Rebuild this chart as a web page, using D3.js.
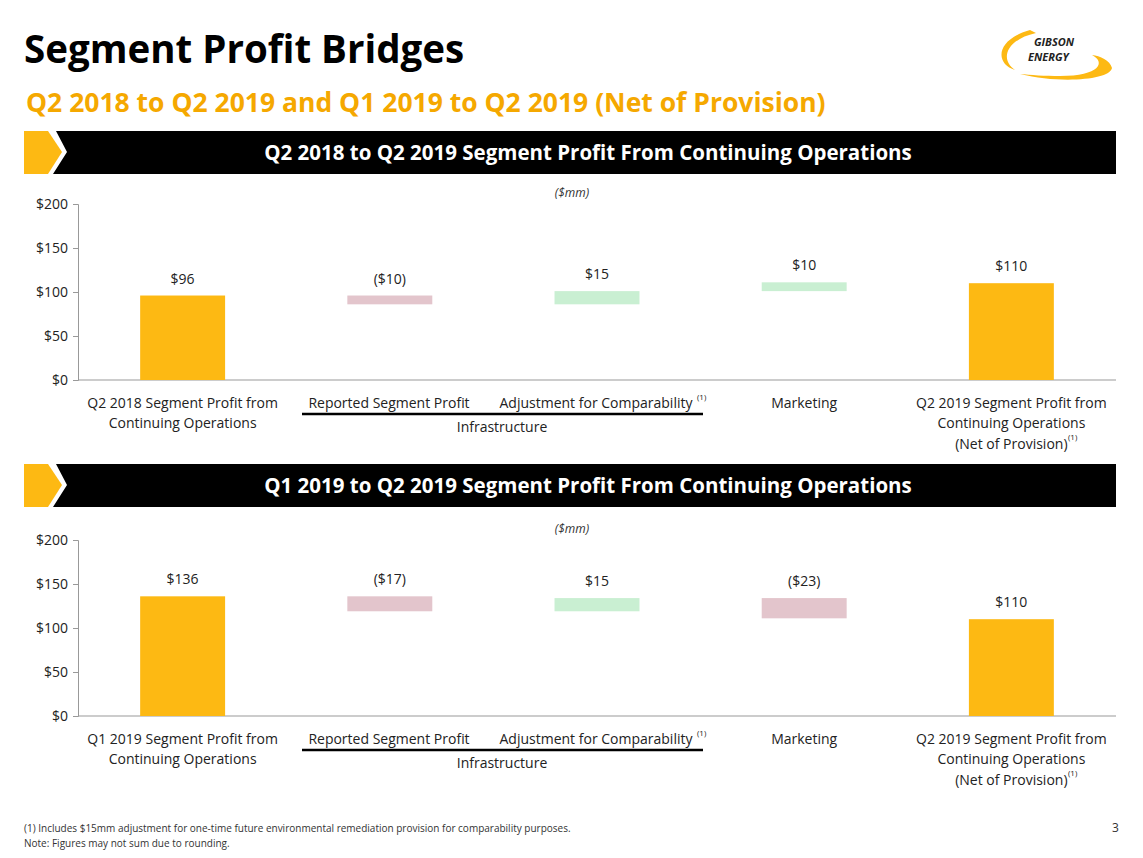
<!DOCTYPE html>
<html><head><meta charset="utf-8">
<script src="https://cdn.jsdelivr.net/npm/d3@7"></script>
<style>body{margin:0;background:#fff}text{font-family:"Open Sans",sans-serif}</style>
</head><body>
<svg id="c" width="1143" height="858"></svg>
<script>
var categories = ['start', 'Reported Segment Profit', 'Adjustment for Comparability', 'Marketing', 'end'];
var bridge1 = [96, -10, 15, 10, 110];
var bridge1Labels = ['$96', '($10)', '$15', '$10', '$110'];
var bridge2 = [136, -17, 15, -23, 110];
var bridge2Labels = ['$136', '($17)', '$15', '($23)', '$110'];
var yTicks = [0, 50, 100, 150, 200];

var gold = '#FDB913', pink = '#E3C5CC', green = '#C9EFD2';
var svg = d3.select('#c');

svg.append('text').attr('x', 24).attr('y', 63).attr('font-size', 38.5).attr('font-weight', 'bold')
   .attr('fill', '#000').text('Segment Profit Bridges');
svg.append('text').attr('x', 26).attr('y', 112).attr('font-size', 26.5).attr('font-weight', 'bold')
   .attr('fill', '#F5A800').text('Q2 2018 to Q2 2019 and Q1 2019 to Q2 2019 (Net of Provision)');

// logo
var logo = svg.append('g');
logo.append('path').attr('d', 'M1030,30 C995,40 995,64 1015,70 C1000,60 1005,40 1036,33 Z').attr('fill', gold);
logo.append('path').attr('d', 'M1020,74 C1060,84 1110,80 1112,68 C1110,60 1100,56 1092,55 C1106,62 1100,76 1060,76 C1045,76 1030,75 1020,74 Z')
    .attr('fill', gold);
logo.append('text').attr('x', 1034).attr('y', 46).attr('font-size', 11).attr('font-weight', 'bold')
    .attr('font-style', 'italic').attr('fill', '#222').text('GIBSON');
logo.append('text').attr('x', 1028).attr('y', 61).attr('font-size', 11).attr('font-weight', 'bold')
    .attr('font-style', 'italic').attr('fill', '#222').text('ENERGY');

function banner(y, title) {
  svg.append('path').attr('d', 'M24,' + y + 'H48L62,' + (y + 21) + 'L48,' + (y + 43) + 'H24Z').attr('fill', gold);
  svg.append('path').attr('d', 'M56,' + y + 'H1116V' + (y + 43) + 'H53L67,' + (y + 21) + 'Z').attr('fill', '#000');
  svg.append('text').attr('x', 588).attr('y', y + 29).attr('text-anchor', 'middle').attr('font-size', 20.5)
     .attr('font-weight', 'bold').attr('fill', '#fff').text(title);
}

function bridge(top, values, labels, first) {
  var y0 = top + 249, y200 = top + 73;
  var x = d3.scaleBand().domain(categories).range([78, 1116]).paddingInner(0.59).paddingOuter(0.3);
  var y = d3.scaleLinear().domain([0, 200]).range([y0, y200]);
  var g = svg.append('g');
  g.append('text').attr('x', 572).attr('y', top + 66).attr('text-anchor', 'middle').attr('font-size', 12)
   .attr('font-style', 'italic').attr('fill', '#333').text('($mm)');
  g.append('g').attr('transform', 'translate(78,0)')
   .call(d3.axisLeft(y).tickValues(yTicks).tickSize(5).tickFormat(function(d){return '$' + d;}))
   .call(function(a){
     a.select('.domain').attr('stroke', '#999');
     a.selectAll('line').attr('stroke', '#999');
     a.selectAll('text').attr('font-size', 14).attr('fill', '#222').attr('x', -10);
   });
  g.append('line').attr('x1', 78).attr('x2', 1116).attr('y1', y0).attr('y2', y0).attr('stroke', '#999');
  var cum = 0;
  var bars = values.map(function(v, i) {
    var lo, hi, col;
    if (i === 0 || i === values.length - 1) { lo = 0; hi = v; col = gold; cum = v; }
    else { lo = Math.min(cum, cum + v); hi = Math.max(cum, cum + v); col = v < 0 ? pink : green; cum += v; }
    return {c: categories[i], lo: lo, hi: hi, col: col, label: labels[i]};
  });
  g.selectAll('rect.b').data(bars).enter().append('rect')
   .attr('x', function(d){return x(d.c);}).attr('width', x.bandwidth())
   .attr('y', function(d){return y(d.hi);}).attr('height', function(d){return y(d.lo) - y(d.hi);})
   .attr('fill', function(d){return d.col;});
  g.selectAll('text.l').data(bars).enter().append('text')
   .attr('x', function(d){return x(d.c) + x.bandwidth() / 2;}).attr('y', function(d){return y(d.hi) - 12;})
   .attr('text-anchor', 'middle').attr('font-size', 14).attr('fill', '#222').text(function(d){return d.label;});

  var ly = y0 + 28;
  function lab(cx, yy, s, anchor) {
    return g.append('text').attr('x', cx).attr('y', yy).attr('text-anchor', anchor || 'middle')
            .attr('font-size', 14).attr('fill', '#222').text(s);
  }
  function sup(xx, yy) {
    g.append('text').attr('x', xx).attr('y', yy).attr('font-size', 8).attr('fill', '#222').text('(1)');
  }
  var cx = function(i){return x(categories[i]) + x.bandwidth() / 2;};
  lab(cx(0), ly, first + ' Segment Profit from');
  lab(cx(0), ly + 20, 'Continuing Operations');
  lab(389, ly, 'Reported Segment Profit');
  lab(596, ly, 'Adjustment for Comparability');
  sup(697, ly - 8);
  g.append('line').attr('x1', 302).attr('x2', 703).attr('y1', ly + 6).attr('y2', ly + 6)
   .attr('stroke', '#000').attr('stroke-width', 2.5);
  lab(502, ly + 24, 'Infrastructure');
  lab(cx(3), ly, 'Marketing');
  lab(cx(4), ly, 'Q2 2019 Segment Profit from');
  lab(cx(4), ly + 20, 'Continuing Operations');
  lab(cx(4), ly + 41, '(Net of Provision)');
  sup(1068, ly + 32);
}

banner(131, 'Q2 2018 to Q2 2019 Segment Profit From Continuing Operations');
bridge(131, bridge1, bridge1Labels, 'Q2 2018');
banner(464, 'Q1 2019 to Q2 2019 Segment Profit From Continuing Operations');
bridge(467, bridge2, bridge2Labels, 'Q1 2019');

svg.append('text').attr('x', 24).attr('y', 832).attr('font-size', 10).attr('fill', '#333')
   .text('(1) Includes $15mm adjustment for one-time future environmental remediation provision for comparability purposes.');
svg.append('text').attr('x', 24).attr('y', 847).attr('font-size', 10).attr('fill', '#333')
   .text('Note: Figures may not sum due to rounding.');
svg.append('text').attr('x', 1112).attr('y', 832).attr('font-size', 12).attr('fill', '#333').text('3');
</script>
</body></html>
